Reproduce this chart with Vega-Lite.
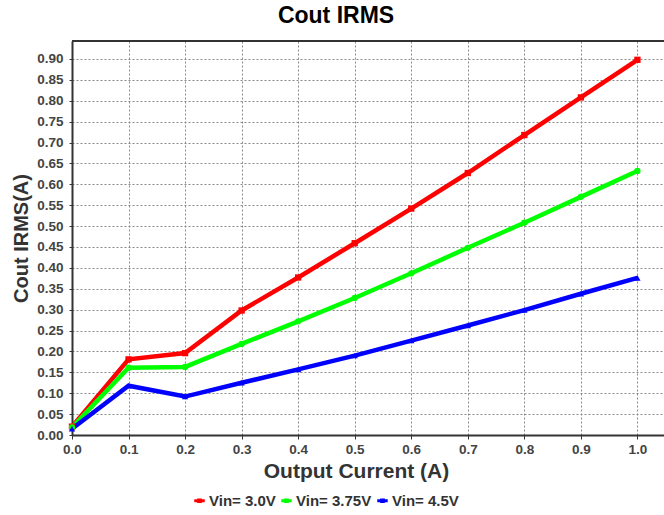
{
  "$schema": "https://vega.github.io/schema/vega-lite/v6.json",
  "width": 592,
  "height": 394,
  "autosize": {"type": "none"},
  "padding": {"left": 72, "top": 41, "right": 0, "bottom": 80},
  "background": "white",
  "config": {
    "view": {"stroke": null},
    "font": "Liberation Sans"
  },
  "title": {
    "text": "Cout IRMS",
    "fontSize": 23,
    "fontWeight": "bold",
    "color": "#000000",
    "anchor": "middle",
    "dx": -32,
    "offset": 12,
    "font": "Liberation Sans"
  },
  "data": {
    "values": [
      {"I": 0.0, "v": 0.020, "s": "Vin= 3.0V"},
      {"I": 0.1, "v": 0.181, "s": "Vin= 3.0V"},
      {"I": 0.2, "v": 0.196, "s": "Vin= 3.0V"},
      {"I": 0.3, "v": 0.298, "s": "Vin= 3.0V"},
      {"I": 0.4, "v": 0.377, "s": "Vin= 3.0V"},
      {"I": 0.5, "v": 0.459, "s": "Vin= 3.0V"},
      {"I": 0.6, "v": 0.542, "s": "Vin= 3.0V"},
      {"I": 0.7, "v": 0.627, "s": "Vin= 3.0V"},
      {"I": 0.8, "v": 0.718, "s": "Vin= 3.0V"},
      {"I": 0.9, "v": 0.808, "s": "Vin= 3.0V"},
      {"I": 1.0, "v": 0.898, "s": "Vin= 3.0V"},
      {"I": 0.0, "v": 0.018, "s": "Vin= 3.75V"},
      {"I": 0.1, "v": 0.161, "s": "Vin= 3.75V"},
      {"I": 0.2, "v": 0.163, "s": "Vin= 3.75V"},
      {"I": 0.3, "v": 0.218, "s": "Vin= 3.75V"},
      {"I": 0.4, "v": 0.272, "s": "Vin= 3.75V"},
      {"I": 0.5, "v": 0.328, "s": "Vin= 3.75V"},
      {"I": 0.6, "v": 0.387, "s": "Vin= 3.75V"},
      {"I": 0.7, "v": 0.448, "s": "Vin= 3.75V"},
      {"I": 0.8, "v": 0.508, "s": "Vin= 3.75V"},
      {"I": 0.9, "v": 0.570, "s": "Vin= 3.75V"},
      {"I": 1.0, "v": 0.632, "s": "Vin= 3.75V"},
      {"I": 0.0, "v": 0.015, "s": "Vin= 4.5V"},
      {"I": 0.1, "v": 0.118, "s": "Vin= 4.5V"},
      {"I": 0.2, "v": 0.092, "s": "Vin= 4.5V"},
      {"I": 0.3, "v": 0.125, "s": "Vin= 4.5V"},
      {"I": 0.4, "v": 0.157, "s": "Vin= 4.5V"},
      {"I": 0.5, "v": 0.190, "s": "Vin= 4.5V"},
      {"I": 0.6, "v": 0.226, "s": "Vin= 4.5V"},
      {"I": 0.7, "v": 0.262, "s": "Vin= 4.5V"},
      {"I": 0.8, "v": 0.299, "s": "Vin= 4.5V"},
      {"I": 0.9, "v": 0.338, "s": "Vin= 4.5V"},
      {"I": 1.0, "v": 0.376, "s": "Vin= 4.5V"}
    ]
  },
  "encoding": {
    "x": {
      "field": "I",
      "type": "quantitative",
      "scale": {"domain": [0, 1.047], "nice": false, "zero": false},
      "axis": {
        "title": "Output Current (A)",
        "values": [0, 0.1, 0.2, 0.3, 0.4, 0.5, 0.6, 0.7, 0.8, 0.9, 1.0],
        "format": ".1f",
        "labelFont": "Liberation Sans",
        "labelFontSize": 13.5,
        "labelFontWeight": "bold",
        "labelColor": "#444444",
        "labelPadding": 3,
        "labelFlush": false,
        "titleFont": "Liberation Sans",
        "titleFontSize": 21,
        "titleFontWeight": "bold",
        "titleColor": "#333333",
        "titlePadding": 5,
        "titleX": 284,
        "domainColor": "#333333",
        "domainWidth": 2,
        "tickColor": "#333333",
        "tickSize": 4,
        "grid": true,
        "gridColor": "#888888",
        "gridDash": [2, 2],
        "gridWidth": 1
      }
    },
    "y": {
      "field": "v",
      "type": "quantitative",
      "scale": {"domain": [0, 0.943], "nice": false},
      "axis": {
        "title": "Cout IRMS(A)",
        "values": [0, 0.05, 0.1, 0.15, 0.2, 0.25, 0.3, 0.35, 0.4, 0.45, 0.5, 0.55, 0.6, 0.65, 0.7, 0.75, 0.8, 0.85, 0.9],
        "format": ".2f",
        "labelFont": "Liberation Sans",
        "labelFontSize": 13.5,
        "labelFontWeight": "bold",
        "labelColor": "#444444",
        "labelPadding": 6,
        "labelFlush": false,
        "titleFont": "Liberation Sans",
        "titleFontSize": 20,
        "titleFontWeight": "bold",
        "titleColor": "#333333",
        "titlePadding": 5,
        "domainColor": "#333333",
        "domainWidth": 2,
        "tickColor": "#333333",
        "tickSize": 3,
        "grid": true,
        "gridColor": "#888888",
        "gridDash": [2, 2],
        "gridWidth": 1
      }
    },
    "color": {
      "field": "s",
      "type": "nominal",
      "scale": {"domain": ["Vin= 3.0V", "Vin= 3.75V", "Vin= 4.5V"], "range": ["#ff0000", "#00ff00", "#0000ff"]},
      "legend": {
        "title": null,
        "orient": "none",
        "legendX": 120,
        "legendY": 452,
        "direction": "horizontal",
        "symbolType": "M-1,-0.3L1,-0.3L1,0.3L-1,0.3Z M-0.45,-0.45L0.45,-0.45L0.45,0.45L-0.45,0.45Z",
        "symbolSize": 110,
        "symbolStrokeWidth": 0,
        "labelFont": "Liberation Sans",
        "labelFontSize": 15,
        "labelFontWeight": "bold",
        "labelColor": "#333333",
        "labelOffset": 2,
        "columnPadding": 3
      }
    }
  },
  "layer": [
    {
      "mark": {"type": "rule", "color": "#333333", "strokeWidth": 2},
      "encoding": {"y": {"datum": 0.943}, "x": null, "color": null}
    },
    {
      "mark": {"type": "line", "strokeWidth": 4.5, "clip": true},
      "encoding": {"detail": {"field": "s"}}
    },
    {
      "mark": {"type": "point", "filled": true, "size": 40, "opacity": 1},
      "encoding": {
        "shape": {"field": "s", "type": "nominal", "scale": {"range": ["square", "circle", "triangle-up"]}, "legend": null}
      }
    }
  ]
}
